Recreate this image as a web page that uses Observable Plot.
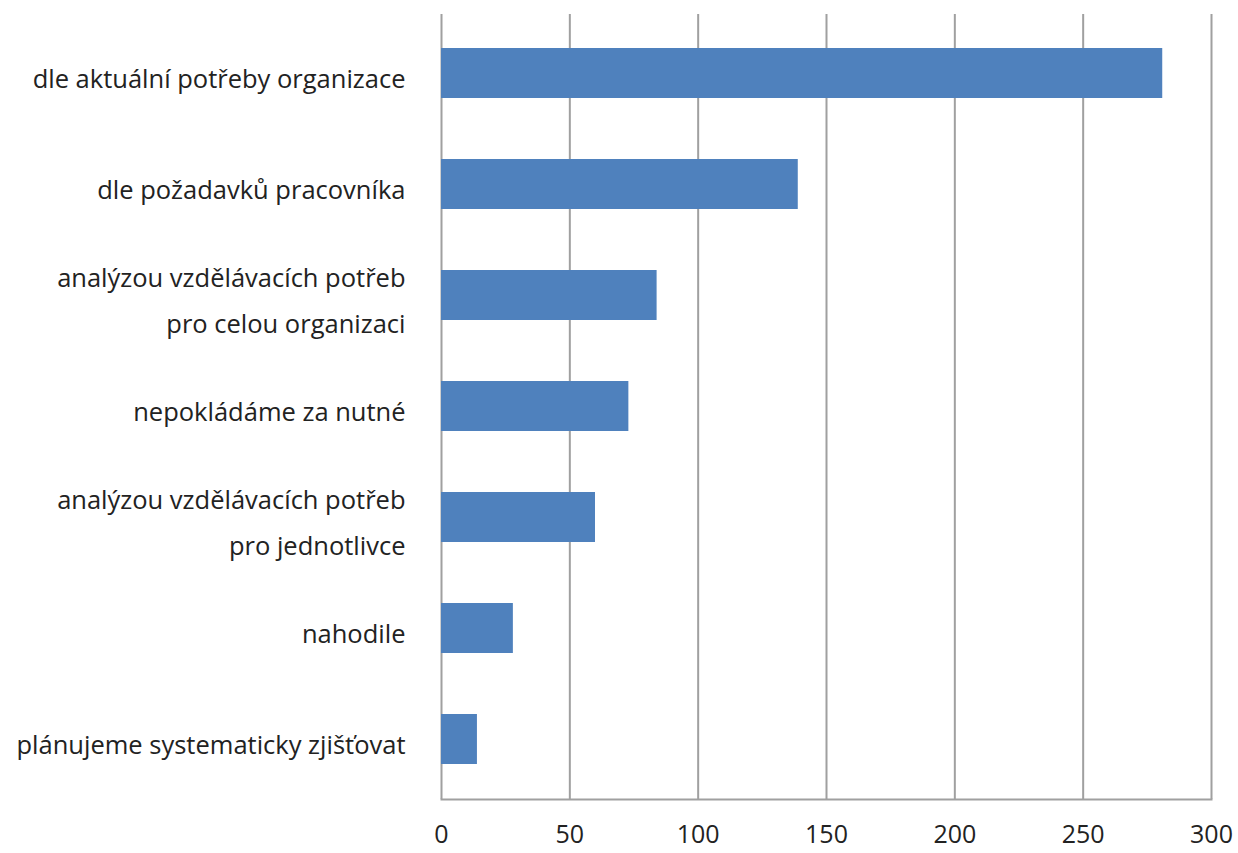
<!DOCTYPE html>
<html>
<head>
<meta charset="utf-8">
<script src="https://cdn.jsdelivr.net/npm/d3@7"></script>
<script src="https://cdn.jsdelivr.net/npm/@observablehq/plot@0.6"></script>
<style>
  html, body { margin: 0; padding: 0; background: #fff; }
  #chart svg { display: block; }
</style>
</head>
<body>
<div id="chart"></div>
<script>
// Categories (top to bottom) and counts of responses
const categories = [
  "dle aktuální potřeby organizace",
  "dle požadavků pracovníka",
  "analýzou vzdělávacích potřeb\npro celou organizaci",
  "nepokládáme za nutné",
  "analýzou vzdělávacích potřeb\npro jednotlivce",
  "nahodile",
  "plánujeme systematicky zjišťovat"
];
const counts = [281, 139, 84, 73, 60, 28, 14];
const xTicks = [0, 50, 100, 150, 200, 250, 300];

const data = categories.map((c, i) => ({category: c, count: counts[i]}));

const chart = Plot.plot({
  width: 1238,
  height: 853,
  marginLeft: 441,
  marginRight: 27,
  marginTop: 14,
  marginBottom: 54,
  style: {fontFamily: "'Open Sans', sans-serif", color: "#222", background: "#fff"},
  x: {domain: [0, 300], ticks: xTicks},
  y: {domain: categories, paddingInner: 0.548, paddingOuter: 0.31},
  marks: [
    Plot.gridX(xTicks, {stroke: "#a0a0a0", strokeOpacity: 1, strokeWidth: 2}),
    Plot.frame({anchor: "bottom", stroke: "#a0a0a0", strokeWidth: 2}),
    Plot.barX(data, {x: "count", y: "category", fill: "#4f81bd"}),
    Plot.axisX(xTicks, {tickSize: 0, tickPadding: 26, fontSize: 25, label: null, fill: "#222"}),
    Plot.axisY({tickSize: 0, tickPadding: 36, fontSize: 25.5, lineHeight: 1.8, label: null, fill: "#222"})
  ]
});

document.getElementById("chart").appendChild(chart);
</script>
</body>
</html>
